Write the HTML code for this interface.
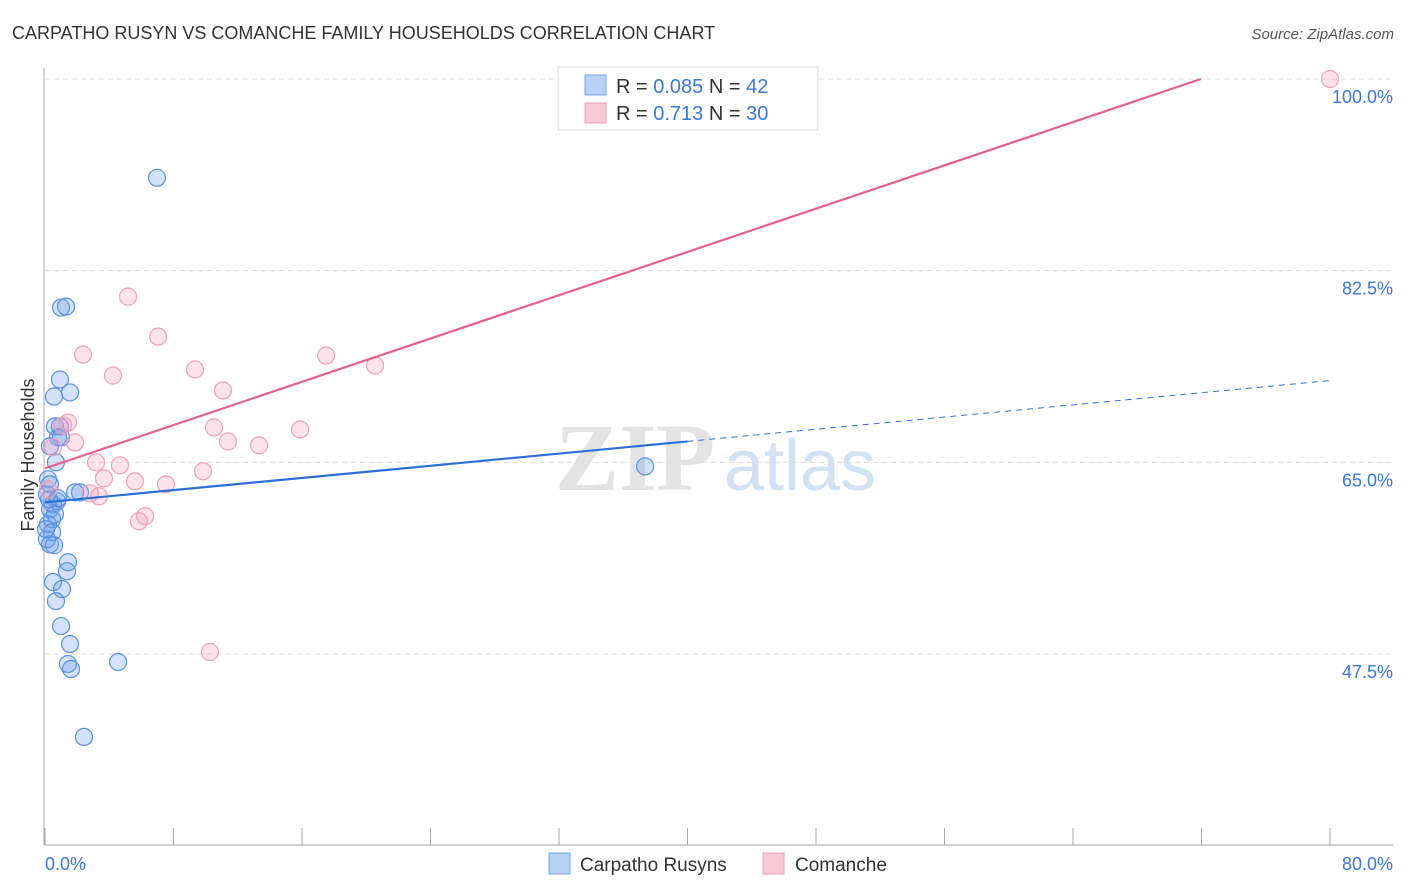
<!DOCTYPE html>
<html><head><meta charset="utf-8"><style>
body{margin:0;background:#fff;font-family:"Liberation Sans",sans-serif;}
svg{display:block}
</style></head><body>
<svg id="c" width="1406" height="892" xmlns="http://www.w3.org/2000/svg">
<text x="12" y="39" font-size="18" fill="#333">CARPATHO RUSYN VS COMANCHE FAMILY HOUSEHOLDS CORRELATION CHART</text>
<text x="1394" y="39" font-size="15" fill="#555" font-style="italic" text-anchor="end">Source: ZipAtlas.com</text>
<g>
<text x="635" y="490" font-size="96" fill="#ddd" text-anchor="middle" font-family="Liberation Serif,serif" font-weight="bold" opacity="0.8">ZIP</text>
<text x="800" y="490" font-size="72" fill="#c8daf2" text-anchor="middle" opacity="0.8">atlas</text>
</g>
<g id="grid"></g>
<g id="axes"></g>
<g id="marks"></g>
<text transform="translate(34,455) rotate(-90)" font-size="18" fill="#333" text-anchor="middle">Family Households</text>
<g>
<rect x="558" y="67" width="260" height="63" fill="#fff" stroke="#ddd"/>
<rect x="585" y="75" width="21" height="20" fill="#b8d2f5" stroke="#7aa6e6"/>
<text x="616" y="93" font-size="20" fill="#333">R = <tspan fill="#3a78d8">0.085</tspan>   N = <tspan fill="#3a78d8">42</tspan></text>
<rect x="585" y="103" width="21" height="20" fill="#f8c8d6" stroke="#eea0b8"/>
<text x="616" y="120" font-size="20" fill="#333">R =  <tspan fill="#3a78d8">0.713</tspan>   N = <tspan fill="#3a78d8">30</tspan></text>
</g>
<g>
<rect x="549" y="853" width="21" height="21" fill="#b8d2f5" stroke="#7aa6e6"/>
<text x="580" y="871" font-size="19" fill="#333">Carpatho Rusyns</text>
<rect x="763" y="853" width="21" height="21" fill="#f8c8d6" stroke="#eea0b8"/>
<text x="795" y="871" font-size="19" fill="#333">Comanche</text>
</g>
</svg>
<script>
const yTicks=[100,82.5,65,47.5];
const yTickLabels=["100.0%","82.5%","65.0%","47.5%"];
const xTickCount=10;
const xLabels=["0.0%","80.0%"];
const blueX=[6.97,1.0,1.31,0.93,1.56,0.56,0.62,0.93,0.81,1.0,0.31,0.68,0.19,0.31,2.18,1.87,0.75,0.5,0.31,0.62,0.44,0.19,0.44,0.31,0.56,1.43,1.37,0.5,1.06,0.68,1.0,1.56,1.43,1.62,4.55,2.43,37.36,0.12,0.12,0.25,0.06,0.81];
const blueY=[90.98,79.13,79.22,72.56,71.38,71.01,68.28,68.28,67.28,67.28,66.46,65.0,63.45,62.99,62.26,62.26,61.44,61.17,60.71,60.26,59.8,59.35,58.62,57.52,57.43,55.88,55.06,54.06,53.42,52.33,50.05,48.41,46.59,46.13,46.77,39.93,64.63,62.08,57.98,61.63,58.89,61.72];
const pinkX=[33.25,80,5.17,7.04,2.37,17.5,20.55,4.23,9.34,11.08,1.43,1.12,1.87,10.52,11.39,13.33,15.88,0.5,3.18,4.67,3.67,9.84,5.6,7.53,2.8,3.36,6.23,5.85,10.27,0.19];
const pinkY=[100,100,80.13,76.48,74.84,74.75,73.84,72.93,73.48,71.56,68.64,68.37,66.82,68.19,66.91,66.55,68.0,66.37,65.0,64.73,63.54,64.18,63.27,62.99,62.17,61.9,60.08,59.62,47.68,62.53];
const blueTrend=[61.35,0.139];
const pinkTrend=[64.45,0.494];
const NS="http://www.w3.org/2000/svg";
const sx=v=>45+v*(1330-45)/80;
const sy=v=>79+(100-v)*(654-79)/52.5;
function mk(tag,attrs,parent){const e=document.createElementNS(NS,tag);for(const k in attrs)e.setAttribute(k,attrs[k]);document.getElementById(parent).appendChild(e);return e;}
yTicks.forEach((t,i)=>{
 const l=mk('line',{x1:45,x2:1393,y1:sy(t),y2:sy(t),stroke:'#ddd','stroke-dasharray':'5,4'},'grid');
 
 
 const tx=mk('text',{x:1393,y:sy(t)+24,'font-size':18,fill:'#3a78d8','text-anchor':'end'},'axes');
 tx.textContent=yTickLabels[i];
 
 
});
let a=mk('line',{x1:44,x2:44,y1:68,y2:845,stroke:'#aaa'},'axes');


a=mk('line',{x1:44,x2:1393,y1:845,y2:845,stroke:'#aaa'},'axes');


for(let i=0;i<=xTickCount;i++){
 const x=sx(i*80/xTickCount);
 const t=mk('line',{x1:x,x2:x,y1:828,y2:845,stroke:'#aaa'},'axes');
 
 
}
let xl=mk('text',{x:45,y:870,'font-size':18,fill:'#3a78d8'},'axes');xl.textContent=xLabels[0];


xl=mk('text',{x:1393,y:870,'font-size':18,fill:'#3a78d8','text-anchor':'end'},'axes');xl.textContent=xLabels[1];


blueX.forEach((x,i)=>{
 const c=mk('circle',{cx:sx(x),cy:sy(blueY[i]),r:8.5,fill:'rgba(110,160,235,0.3)',stroke:'#5a90e0','stroke-width':1.2},'marks');
 
 
});
pinkX.forEach((x,i)=>{
 const c=mk('circle',{cx:sx(x),cy:sy(pinkY[i]),r:8.5,fill:'rgba(245,160,190,0.3)',stroke:'#f0a0b8','stroke-width':1.2},'marks');
 
 
});
const bf=x=>blueTrend[0]+blueTrend[1]*x;
let L=mk('line',{x1:sx(0),y1:sy(bf(0)),x2:sx(40),y2:sy(bf(40)),stroke:'#2c6fd6','stroke-width':2.2},'marks');


L=mk('line',{x1:sx(40),y1:sy(bf(40)),x2:sx(80),y2:sy(bf(80)),stroke:'#2c6fd6','stroke-width':1,'stroke-dasharray':'6,5'},'marks');


const xEnd=Math.min(80,(100-pinkTrend[0])/pinkTrend[1]);
L=mk('line',{x1:sx(0),y1:sy(pinkTrend[0]),x2:sx(xEnd),y2:sy(pinkTrend[0]+pinkTrend[1]*xEnd),stroke:'#e8608a','stroke-width':2.2},'marks');


</script>
</body></html>
